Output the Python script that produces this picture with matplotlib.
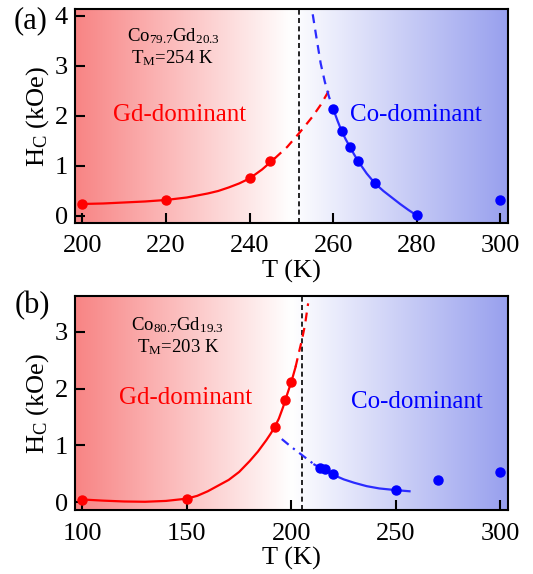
import numpy as np
import matplotlib
matplotlib.use("Agg")
import matplotlib.pyplot as plt

plt.rcParams['font.family'] = ['Liberation Serif', 'DejaVu Serif']
plt.rcParams['mathtext.fontset'] = 'custom'
plt.rcParams['mathtext.rm'] = 'Liberation Serif'
plt.rcParams['mathtext.it'] = 'Liberation Serif:italic'
plt.rcParams['mathtext.default'] = 'regular'

# ---------------- Panel (a) data: Co79.7Gd20.3 ----------------
a_gd_T = [200, 220, 240, 245]
a_gd_H = [0.23, 0.31, 0.75, 1.09]
a_co_T = [260, 262, 264, 266, 270, 280, 300]
a_co_H = [2.14, 1.70, 1.38, 1.09, 0.65, 0.01, 0.32]
# fitted curves
a_gdfit_T = [200, 205, 210, 215, 220, 225, 230, 232.5, 235, 237.5, 240, 243, 246]
a_gdfit_H = [0.24, 0.25, 0.27, 0.29, 0.32, 0.37, 0.45, 0.50, 0.57, 0.65, 0.75, 0.93, 1.15]
a_gdext_T = [246, 249, 252, 255, 257, 259]
a_gdext_H = [1.15, 1.38, 1.67, 1.98, 2.22, 2.51]
a_cofit_T = [260, 261, 262, 263, 264, 265, 266, 268, 270, 272, 274, 276, 278, 280]
a_cofit_H = [2.14, 1.91, 1.70, 1.53, 1.38, 1.23, 1.09, 0.85, 0.65, 0.50, 0.37, 0.24, 0.12, 0.01]
a_coext_T = [255.1, 256, 257, 258, 259, 260]
a_coext_H = [4.03, 3.56, 3.05, 2.68, 2.38, 2.14]
a_TM_line = 251.9

# ---------------- Panel (b) data: Co80.7Gd19.3 ----------------
b_gd_T = [100, 150, 192, 197, 200]
b_gd_H = [0.04, 0.06, 1.32, 1.80, 2.12]
b_co_T = [213.5, 216, 220, 250, 270, 300]
b_co_H = [0.60, 0.58, 0.49, 0.22, 0.38, 0.53]
b_gdfit_T = [100, 110, 120, 130, 140, 150, 155, 160, 165, 170, 175, 180, 184, 188,
             190, 192, 194, 196, 198, 200, 202]
b_gdfit_H = [0.045, 0.025, 0.01, 0.005, 0.02, 0.06, 0.11, 0.19, 0.29, 0.39, 0.53, 0.72,
             0.89, 1.09, 1.20, 1.32, 1.47, 1.67, 1.90, 2.12, 2.38]
b_gdext_T = [202, 203.5, 205, 206.5, 208]
b_gdext_H = [2.38, 2.62, 2.85, 3.12, 3.50]
b_cofit_T = [211, 213, 215, 217.5, 220, 222.5, 225, 230, 236, 242, 250, 256.5]
b_cofit_H = [0.66, 0.62, 0.58, 0.53, 0.49, 0.44, 0.40, 0.34, 0.28, 0.24, 0.21, 0.19]
b_coext_T = [195.4, 200, 205, 211]
b_coext_H = [1.11, 0.97, 0.83, 0.66]
b_TM_line = 205.0

RED = '#FF0000'
BLUE = '#0000FF'
BLUE_LINE = '#2B2BFF'
BG_RED = np.array([248, 132, 132]) / 255.0
BG_BLUE = np.array([152, 160, 238]) / 255.0

W, H = 533, 574
fig = plt.figure(figsize=(W / 100, H / 100), dpi=100)

ax_a = fig.add_axes([75 / W, 1 - 223 / H, (508 - 75) / W, (223 - 9.3) / H])
ax_b = fig.add_axes([75 / W, 1 - 510 / H, (508 - 75) / W, (510 - 296) / H])

FS = 19


def gradient(ax):
    f = np.linspace(0, 1, 512)
    img = np.ones((1, 512, 3))
    for i, v in enumerate(f):
        if v < 0.5:
            t = v / 0.5
            img[0, i] = BG_RED + (1 - BG_RED) * t
        else:
            t = (v - 0.5) / 0.5
            img[0, i] = 1 + (BG_BLUE - 1) * t
    ax.imshow(img, extent=[0, 1, 0, 1], transform=ax.transAxes,
              aspect='auto', zorder=0, interpolation='bilinear')


def style(ax, xlim, ylim, xticks, yticks):
    gradient(ax)
    ax.set_xlim(*xlim)
    ax.set_ylim(*ylim)
    ax.set_xticks(xticks)
    ax.set_yticks(yticks)
    ax.tick_params(direction='in', length=7.5, width=1.5, labelsize=FS,
                   top=False, right=False, pad=5)
    ax.tick_params(axis='x', pad=9)
    for s in ax.spines.values():
        s.set_linewidth(1.5)
    ax.set_xlabel('T (K)', fontsize=FS, labelpad=2)
    ax.set_ylabel('H$_{C}$ (kOe)', fontsize=FS, labelpad=3)


# ---------- Panel (a) ----------
style(ax_a, (198.25, 301.8), (-0.14, 4.13), [200, 220, 240, 260, 280, 300], [0, 1, 2, 3, 4])
ax_a.axvline(a_TM_line, color='black', lw=1.2, ls=(0, (3, 2)), zorder=2)
ax_a.plot(a_gdfit_T, a_gdfit_H, color=RED, lw=1.6, zorder=3)
ax_a.plot(a_gdext_T, a_gdext_H, color=RED, lw=1.6, ls=(0, (4, 3)), zorder=3)
ax_a.plot(a_cofit_T, a_cofit_H, color=BLUE_LINE, lw=1.6, zorder=3)
ax_a.plot(a_coext_T, a_coext_H, color=BLUE_LINE, lw=1.6, ls=(0, (4, 3)), zorder=3)
ax_a.plot(a_gd_T, a_gd_H, 'o', color=RED, ms=6.5, zorder=4, clip_on=False)
ax_a.plot(a_co_T, a_co_H, 'o', color=BLUE, ms=6.5, zorder=4, clip_on=False)
ax_a.text(223.2, 2.02, 'Gd-dominant', color=RED, fontsize=18, ha='center', va='center')
ax_a.text(279.8, 2.02, 'Co-dominant', color=BLUE, fontsize=18, ha='center', va='center')
ax_a.text(221.7, 3.6, 'Co$_{79.7}$Gd$_{20.3}$', fontsize=13.5, ha='center', va='center')
ax_a.text(221.4, 3.15, 'T$_{M}$=254 K', fontsize=13.5, ha='center', va='center')

# ---------- Panel (b) ----------
style(ax_b, (96.5, 303.6), (-0.14, 3.63), [100, 150, 200, 250, 300], [0, 1, 2, 3])
ax_b.axvline(b_TM_line, color='black', lw=1.2, ls=(0, (3, 2)), zorder=2)
ax_b.plot(b_gdfit_T, b_gdfit_H, color=RED, lw=1.6, zorder=3)
ax_b.plot(b_gdext_T, b_gdext_H, color=RED, lw=1.6, ls=(0, (4, 3)), zorder=3)
ax_b.plot(b_cofit_T, b_cofit_H, color=BLUE_LINE, lw=1.6, zorder=3)
ax_b.plot(b_coext_T, b_coext_H, color=BLUE_LINE, lw=1.6, ls=(0, (4, 2.5, 1, 2.5)), zorder=3)
ax_b.plot(b_gd_T, b_gd_H, 'o', color=RED, ms=6.5, zorder=4, clip_on=False)
ax_b.plot(b_co_T, b_co_H, 'o', color=BLUE, ms=6.5, zorder=4, clip_on=False)
ax_b.text(149.2, 1.83, 'Gd-dominant', color=RED, fontsize=18, ha='center', va='center')
ax_b.text(260.0, 1.77, 'Co-dominant', color=BLUE, fontsize=18, ha='center', va='center')
ax_b.text(145.6, 3.12, 'Co$_{80.7}$Gd$_{19.3}$', fontsize=13.5, ha='center', va='center')
ax_b.text(145.8, 2.73, 'T$_{M}$=203 K', fontsize=13.5, ha='center', va='center')

fig.text(31 / W, 1 - 21 / H, '(a)', fontsize=22, ha='center', va='center')
fig.text(32 / W, 1 - 306 / H, '(b)', fontsize=22, ha='center', va='center')

fig.savefig('out.png', dpi=100)
